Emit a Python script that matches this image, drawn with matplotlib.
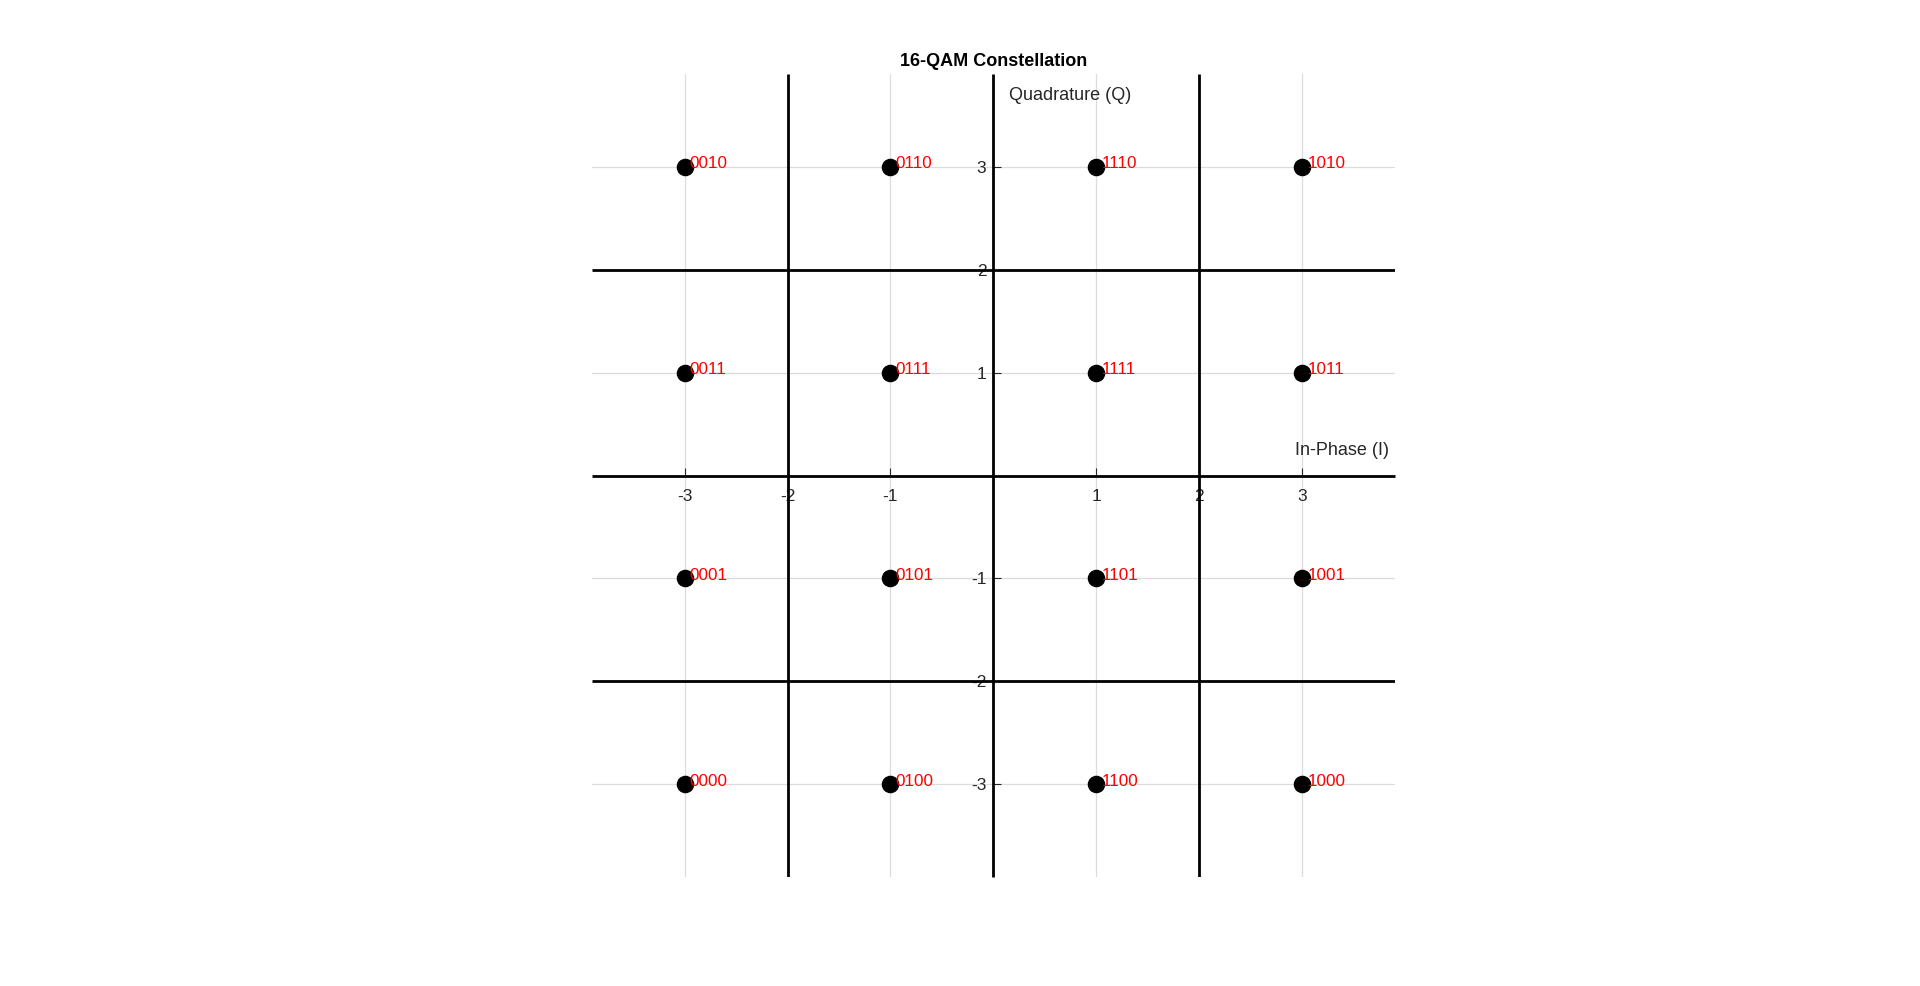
import matplotlib
matplotlib.use("Agg")
import matplotlib.pyplot as plt

plt.rcParams['font.family'] = ['Liberation Sans', 'DejaVu Sans']

# Data
i_vals = [-3, -1, 1, 3, -3, -1, 1, 3, -3, -1, 1, 3, -3, -1, 1, 3]
q_vals = [3, 3, 3, 3, 1, 1, 1, 1, -1, -1, -1, -1, -3, -3, -3, -3]
bit_labels = ["0010", "0110", "1110", "1010",
              "0011", "0111", "1111", "1011",
              "0001", "0101", "1101", "1001",
              "0000", "0100", "1100", "1000"]
decision_bounds = [-2, 2]
tick_vals = [-3, -2, -1, 1, 2, 3]
grid_vals = [-3, -1, 1, 3]

fig = plt.figure(figsize=(19.2, 9.86), dpi=100)
ax = fig.add_axes([0.3083, 0.1105, 0.4182, 0.8144])
ax.set_xlim(-3.9, 3.9)
ax.set_ylim(-3.9, 3.9)

# light grid
for g in grid_vals:
    ax.axvline(g, color='#dcdcdc', lw=0.9, zorder=0)
    ax.axhline(g, color='#dcdcdc', lw=0.9, zorder=0)

# decision boundaries
for b in decision_bounds:
    ax.axvline(b, color='black', lw=2, zorder=2, solid_capstyle='butt')
    ax.axhline(b, color='black', lw=2, zorder=2, solid_capstyle='butt')

# axes through origin
for s in ['top', 'right']:
    ax.spines[s].set_visible(False)
for s in ['left', 'bottom']:
    ax.spines[s].set_position(('data', 0))
    ax.spines[s].set_linewidth(2)
    ax.spines[s].set_zorder(2)
    ax.spines[s].set_capstyle('butt')

ax.set_xticks(tick_vals)
ax.set_yticks(tick_vals)
ax.set_xticklabels([str(t) for t in tick_vals])
ax.set_yticklabels([str(t) for t in tick_vals])
ax.tick_params(direction='in', length=5.5, width=0.8, labelsize=12.5,
               colors='#262626')
ax.tick_params(axis='x', pad=10)
ax.tick_params(axis='y', pad=5)

# points
ax.scatter(i_vals, q_vals, s=135, color='black', zorder=3)
for x, y, t in zip(i_vals, q_vals, bit_labels):
    ax.text(x + 0.05, y + 0.03, t, color='red', fontsize=12.3,
            ha='left', va='center', zorder=4)

ax.text(0.15, 3.69, "Quadrature (Q)", fontsize=13, color='#262626',
        ha='left', va='center')
ax.text(3.84, 0.24, "In-Phase (I)", fontsize=13, color='#262626',
        ha='right', va='center')

ax.set_title("16-QAM Constellation", fontsize=13, fontweight='bold', pad=6)

fig.savefig("out.png", dpi=100)
